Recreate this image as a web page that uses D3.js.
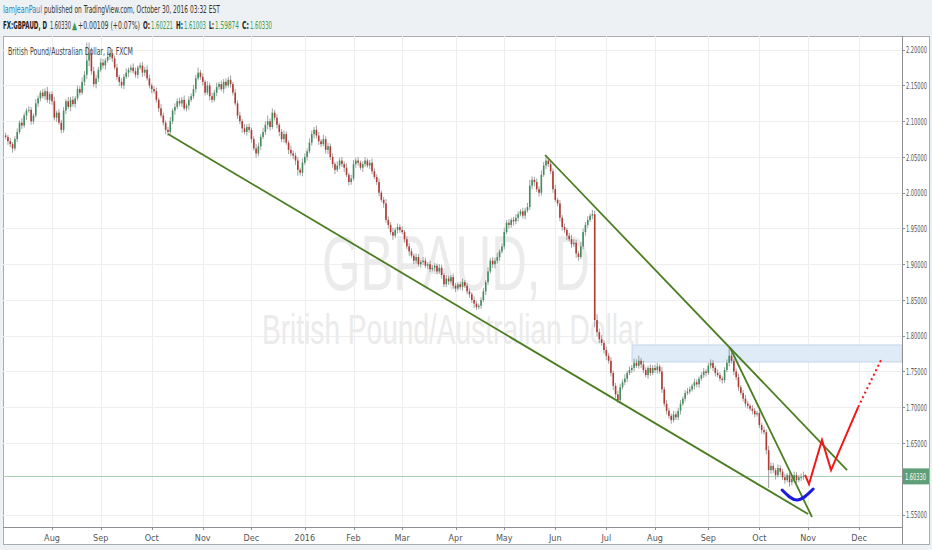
<!DOCTYPE html>
<html><head><meta charset="utf-8">
<script src="https://cdn.jsdelivr.net/npm/d3@7"></script>
<style>
html,body{margin:0;padding:0;background:#eef1f4;}
svg{display:block;font-family:"Liberation Sans Narrow","DejaVu Sans Condensed","Arial Narrow",sans-serif;}
</style></head>
<body><svg id="c" width="932" height="550"></svg>
<script>
// ---- data ----
const firstDate = "2015-07-06";   // first daily candle (Mon)
const closes = [
2.078,2.072,2.068,2.062,2.075, 2.085,2.098,2.094,2.108,2.115, 2.116,2.100,2.108,2.125,2.132, 2.140,2.135,2.142,2.130,2.138,
2.128,2.105,2.112,2.098,2.088, 2.115,2.128,2.120,2.130,2.124, 2.132,2.145,2.140,2.155,2.165, 2.185,2.195,2.170,2.152,2.160,
2.172,2.182,2.178,2.185,2.190, 2.195,2.188,2.175,2.162,2.155, 2.150,2.162,2.168,2.172,2.175, 2.170,2.165,2.175,2.178,2.168,
2.172,2.160,2.150,2.145,2.142, 2.130,2.118,2.108,2.098,2.088, 2.085,2.100,2.115,2.120,2.128, 2.125,2.130,2.118,2.122,2.130,
2.135,2.145,2.160,2.168,2.162, 2.155,2.140,2.150,2.135,2.130, 2.140,2.148,2.152,2.145,2.155, 2.150,2.158,2.152,2.140,2.125,
2.108,2.100,2.090,2.085,2.092, 2.088,2.075,2.062,2.055,2.065, 2.078,2.085,2.095,2.100,2.092, 2.112,2.105,2.095,2.085,2.075,
2.082,2.070,2.060,2.055,2.052, 2.045,2.032,2.028,2.042,2.050, 2.058,2.070,2.082,2.088,2.080, 2.072,2.068,2.075,2.060,2.065,
2.050,2.040,2.032,2.038,2.045, 2.040,2.035,2.025,2.015,2.020, 2.040,2.045,2.042,2.035,2.040, 2.045,2.038,2.042,2.030,2.022,
2.015,2.000,1.990,1.985,1.962, 1.955,1.945,1.940,1.948,1.952, 1.948,1.945,1.935,1.925,1.918, 1.912,1.905,1.910,1.900,1.903,
1.905,1.898,1.900,1.893,1.895, 1.898,1.890,1.895,1.885,1.872, 1.880,1.876,1.882,1.870,1.866, 1.872,1.868,1.875,1.870,1.862,
1.858,1.850,1.845,1.840,1.842, 1.850,1.862,1.875,1.890,1.905, 1.900,1.905,1.910,1.918,1.925, 1.945,1.958,1.955,1.962,1.960,
1.965,1.970,1.974,1.968,1.975, 1.980,2.010,2.018,2.015,2.005, 2.000,2.025,2.038,2.045,2.040, 2.030,2.005,1.990,1.985,1.965,
1.952,1.948,1.940,1.935,1.928, 1.930,1.915,1.910,1.925,1.945, 1.955,1.962,1.968,1.970,1.822, 1.805,1.795,1.790,1.780,1.772,
1.765,1.748,1.730,1.718,1.710, 1.728,1.735,1.740,1.748,1.752, 1.755,1.762,1.758,1.765,1.760, 1.752,1.745,1.755,1.748,1.755,
1.752,1.757,1.750,1.725,1.705, 1.695,1.688,1.682,1.690,1.686, 1.695,1.705,1.712,1.720,1.722, 1.725,1.730,1.735,1.732,1.740,
1.745,1.750,1.748,1.758,1.762, 1.755,1.748,1.745,1.740,1.738, 1.752,1.762,1.772,1.765,1.750, 1.742,1.728,1.720,1.712,1.705,
1.702,1.698,1.695,1.690,1.692, 1.675,1.668,1.665,1.640,1.612, 1.618,1.612,1.605,1.615,1.610, 1.602,1.598,1.605,1.595,1.600,
1.605,1.598,1.602,1.6022,1.6033
];
const firstOpen = 2.080;
// upper / lower wick lengths, in thousandths
const wickUp = [
4,3,5,3,4, 5,3,6,4,3, 5,4,3,6,4, 3,5,4,6,3, 4,6,3,5,4, 5,3,6,4,5, 3,5,4,6,5, 25,15,8,6,5,
4,6,5,3,7, 5,6,4,5,3, 5,4,6,3,4, 6,5,3,4,5, 4,6,5,3,4, 5,3,6,4,3, 4,6,3,5,4, 5,4,6,3,5,
4,6,5,7,4, 5,3,6,4,5, 4,6,3,5,4, 5,4,6,3,5, 4,5,3,6,4, 5,3,4,6,5, 4,6,5,8,4, 6,4,5,3,4,
5,4,3,6,4, 4,5,3,6,5, 4,6,5,4,6, 5,3,6,4,5, 4,5,3,6,4, 5,4,6,3,5, 6,4,5,3,4, 5,3,4,6,4,
4,5,3,4,6, 5,4,6,3,5, 4,5,3,4,5, 4,3,5,4,3, 5,4,3,5,4, 4,3,5,4,3, 5,4,3,5,4, 3,4,5,3,4,
4,3,5,4,3, 4,5,3,6,4, 5,4,6,3,5, 6,4,5,3,4, 5,4,3,5,4, 6,8,5,4,5, 4,6,5,8,4, 5,4,6,3,5,
4,5,3,4,6, 5,4,3,6,5, 4,5,3,6,5, 8,5,6,4,5, 4,5,3,4,5, 5,4,6,3,5, 4,6,5,7,4, 5,4,3,5,4,
4,5,3,6,4, 5,4,3,5,4, 4,5,3,4,5, 4,3,5,4,3, 4,5,3,4,5, 4,3,5,4,3, 4,5,11,4,3, 4,5,3,4,5,
4,3,5,4,3, 4,3,5,4,6, 5,4,3,5,4, 4,5,3,4,5, 5,4,3,5,6.7
];
const wickDn = [
3,5,4,6,3, 4,3,5,3,6, 3,5,4,3,5, 4,3,5,4,6, 5,4,6,3,5, 4,5,3,6,4, 5,3,4,3,5, 6,8,5,4,6,
5,3,4,6,3, 4,5,3,4,6, 4,5,3,6,4, 3,4,5,3,6, 5,3,4,6,3, 4,5,3,4,6, 5,3,4,6,3, 4,5,3,4,6,
3,4,5,3,4, 5,4,3,6,4, 3,5,4,3,6, 4,3,5,4,3, 5,4,6,3,5, 4,5,3,6,4, 5,3,4,6,5, 3,4,5,6,4,
5,3,6,4,5, 6,8,4,5,3, 5,3,4,6,4, 5,4,3,5,6, 4,5,6,3,5, 4,6,3,5,4, 3,5,4,3,6, 4,3,5,4,3,
4,5,3,6,4, 5,4,6,3,5, 4,3,5,4,6, 3,5,4,3,5, 4,3,5,4,3, 5,4,3,5,4, 4,5,3,4,5, 3,4,5,3,4,
5,4,6,4,3, 4,3,5,4,3, 5,6,4,5,3, 4,3,5,4,6, 4,5,3,4,5, 3,4,5,6,4, 5,4,3,5,4, 4,5,3,4,5,
5,4,6,3,5, 4,6,5,3,4, 5,4,3,5,10, 6,5,4,5,6, 4,5,6,5,4, 5,3,4,5,3, 4,5,3,4,5, 4,3,5,4,3,
4,5,3,5,4, 5,4,5,3,4, 4,5,3,4,3, 4,3,5,4,5, 3,4,5,3,4, 4,5,3,4,5, 4,3,5,4,5, 4,5,3,4,5,
4,3,5,4,3, 4,5,3,6,25, 5,4,6,3,5, 4,5,3,6,4, 5,4,3,5,3.5
];
const priceTicks = [2.20,2.15,2.10,2.05,2.00,1.95,1.90,1.85,1.80,1.75,1.70,1.65,1.55];
const monthTickDates = ["2015-08-03","2015-09-01","2015-10-01","2015-11-02","2015-12-01","2016-01-01","2016-02-01","2016-03-01","2016-04-01","2016-05-02","2016-06-01","2016-07-01","2016-08-01","2016-09-01","2016-10-03","2016-11-01","2016-12-01"];
const monthTickLabels = ["Aug","Sep","Oct","Nov","Dec","2016","Feb","Mar","Apr","May","Jun","Jul","Aug","Sep","Oct","Nov","Dec"];
const lastPrice = 1.60330;
// drawings: [barIndex, price]
const trendLow   = [[70, 2.0822],[346, 1.5507]];
const trendHigh  = [[232.6, 2.0528],[362.8, 1.6122]];
const trendSteep = [[312.4, 1.7829],[347.7, 1.5465]];
const redPath    = [[344.7,1.6055],[346.4,1.5926],[352.0,1.6542],[355.9,1.6122],[367.6,1.7003]];
const redDotted  = [[367.6,1.7003],[377.9,1.7689]];
const blueArc    = [[334.8,1.5843],[341.3,1.5703],[348.2,1.5857]];
const zone       = {from: 270.1, top: 1.7871, bottom: 1.7633};
// header texts: [text, colour, bold, x, width]
const header1 = [["IamJeanPaul","#2f7fc0",false,3,39],["published on TradingView.com, October 30, 2016 03:32 EST","#333",false,44,176]];
const header2 = [["FX:GBPAUD, D","#222",true,3,44],["1.60330","#333",false,50,21],["▲","#3a9a4a",false,72,5],
  ["+0.00109 (+0.07%)","#333",false,78,62],["O:","#222",true,143,7],["1.60221","#3a9a4a",false,151,22],
  ["H:","#222",true,176,7],["1.61003","#3a9a4a",false,184,22],["L:","#222",true,209,5],["1.59874","#3a9a4a",false,215,24],
  ["C:","#222",true,242,7],["1.60330","#3a9a4a",false,250,22]];

// ---- layout ----
const svg = d3.select("#c");
const L = 3, R = 902, T = 36, B = 527;
const dayMs = 864e5;
function barIndex(s){
  const a = new Date(firstDate+"T00:00:00Z"), b = new Date(s+"T00:00:00Z");
  let n = 0; for (let t=a.getTime(); t<b.getTime(); t+=dayMs){ const w=new Date(t).getUTCDay(); if(w!==0&&w!==6) n++; }
  return n;
}
// squeeze a text horizontally to a given width (condensed chart font)
function fit(sel, x0, y0, w){
  sel.each(function(){
    const nat = this.getComputedTextLength();
    d3.select(this).attr("x",0).attr("y",0).attr("transform",`translate(${x0},${y0}) scale(${w/nat},1)`);
  });
}
const x = d3.scaleLinear().domain([-1.13, 386.5]).range([L, R]);
const y = d3.scaleLinear().domain([2.05, 1.55]).range([157, 514.5]);

// panels
svg.append("rect").attr("x",L+0.5).attr("y",T+0.5).attr("width",926).attr("height",508).attr("fill","#fff").attr("stroke","#a9acb0");
svg.append("line").attr("x1",L).attr("x2",R).attr("y1",B+0.5).attr("y2",B+0.5).attr("stroke","#8d9196");
svg.append("line").attr("x1",R+0.5).attr("x2",R+0.5).attr("y1",T).attr("y2",544).attr("stroke","#8d9196");

svg.append("clipPath").attr("id","pc").append("rect").attr("x",L).attr("y",T).attr("width",R-L).attr("height",B-T);
const plot = svg.append("g").attr("clip-path","url(#pc)");

// grid
const mIdx = monthTickDates.map(barIndex);
plot.selectAll(".vg").data(mIdx).join("line").attr("x1",d=>Math.round(x(d))+0.5).attr("x2",d=>Math.round(x(d))+0.5)
  .attr("y1",T).attr("y2",B).attr("stroke","#eeeeee");
plot.selectAll(".hg").data(priceTicks).join("line").attr("y1",d=>Math.round(y(d))+0.5).attr("y2",d=>Math.round(y(d))+0.5)
  .attr("x1",L).attr("x2",R).attr("stroke","#eeeeee");

// watermark
fit(plot.append("text").attr("font-family","'Liberation Sans',Arial,sans-serif")
  .attr("font-size",78).attr("fill","#ebebeb").text("GBPAUD, D"), 322, 290, 268);
fit(plot.append("text").attr("font-family","'Liberation Sans',Arial,sans-serif")
  .attr("font-size",42).attr("fill","#ebebeb").text("British Pound/Australian Dollar"), 262, 344, 381);

// zone
plot.append("rect").attr("x",x(zone.from)).attr("y",y(zone.top)).attr("width",R-x(zone.from)).attr("height",y(zone.bottom)-y(zone.top))
  .attr("fill","#dfebf7").attr("stroke","#c2d6ea").attr("stroke-width",1);

// last price line
plot.append("line").attr("x1",L).attr("x2",R).attr("y1",Math.round(y(lastPrice))+0.5).attr("y2",Math.round(y(lastPrice))+0.5).attr("stroke","#a7cdb5").attr("stroke-width",1);

// candles
const bars = closes.map((c,i)=>{
  const o = i===0 ? firstOpen : closes[i-1];
  return {i, o, c, h:Math.max(o,c)+wickUp[i]/1000, l:Math.min(o,c)-wickDn[i]/1000};
});
const cg = plot.append("g");
cg.selectAll(".w").data(bars).join("line").attr("x1",d=>x(d.i)).attr("x2",d=>x(d.i))
  .attr("y1",d=>y(d.h)).attr("y2",d=>y(d.l)).attr("stroke","#8a8a8a").attr("stroke-width",0.8);
cg.selectAll(".b").data(bars).join("rect").attr("x",d=>x(d.i)-0.8).attr("width",1.6)
  .attr("y",d=>y(Math.max(d.o,d.c))).attr("height",d=>Math.max(0.8,Math.abs(y(d.o)-y(d.c))))
  .attr("fill",d=>d.c>=d.o?"#3f8f5e":"#b33a33");

// drawings
const ln = d3.line().x(d=>x(d[0])).y(d=>y(d[1]));
[trendLow,trendHigh,trendSteep].forEach(t=>plot.append("path").attr("d",ln(t)).attr("fill","none").attr("stroke","#4b7d21").attr("stroke-width",1.8));
plot.append("path").attr("d",ln(redPath)).attr("fill","none").attr("stroke","#f01818").attr("stroke-width",2);
plot.append("path").attr("d",ln(redDotted)).attr("fill","none").attr("stroke","#f01818").attr("stroke-width",2).attr("stroke-dasharray","2,3");
plot.append("path").attr("d",d3.line().curve(d3.curveNatural).x(d=>x(d[0])).y(d=>y(d[1]))(blueArc)).attr("fill","none").attr("stroke","#1c1ce0").attr("stroke-width",3).attr("stroke-linecap","round");

// legend
fit(svg.append("text").attr("font-size",10).attr("fill","#444").text("British Pound/Australian Dollar, D, FXCM"), 8, 55, 125);

// price axis
const pa = svg.append("g");
pa.selectAll("line").data(priceTicks).join("line").attr("x1",R).attr("x2",R+3).attr("y1",d=>Math.round(y(d))+0.5).attr("y2",d=>Math.round(y(d))+0.5).attr("stroke","#8d9196");
pa.selectAll("text").data(priceTicks).join("text").attr("font-size",9.5).attr("fill","#555").text(d3.format(".5f"))
  .each(function(d){ fit(d3.select(this), R+4, y(d)+3.5, 21); });
const ly = y(lastPrice);
svg.append("rect").attr("x",R+1).attr("y",ly-8).attr("width",26).attr("height",16).attr("fill","#5f9f78");
fit(svg.append("text").attr("font-size",9.5).attr("fill","#fff").text(d3.format(".5f")(lastPrice)), R+3, ly+3.5, 21);

// time axis
const ta = svg.append("g");
ta.selectAll("line").data(mIdx).join("line").attr("x1",d=>Math.round(x(d))+0.5).attr("x2",d=>Math.round(x(d))+0.5).attr("y1",B).attr("y2",B+3).attr("stroke","#8d9196");
ta.selectAll("text").data(mIdx).join("text").attr("x",d=>x(d)).attr("y",541).attr("text-anchor","middle").attr("font-size",9)
  .attr("fill","#555").text((d,i)=>monthTickLabels[i]);

// header
function headerLine(items, yy){
  svg.append("g").selectAll("text").data(items).join("text").attr("font-size",10.5)
    .attr("fill",d=>d[1]).attr("font-weight",d=>d[2]?"bold":"normal").text(d=>d[0])
    .each(function(d){ fit(d3.select(this), d[3], yy, d[4]); });
}
headerLine(header1, 13);
headerLine(header2, 29);
</script></body></html>
